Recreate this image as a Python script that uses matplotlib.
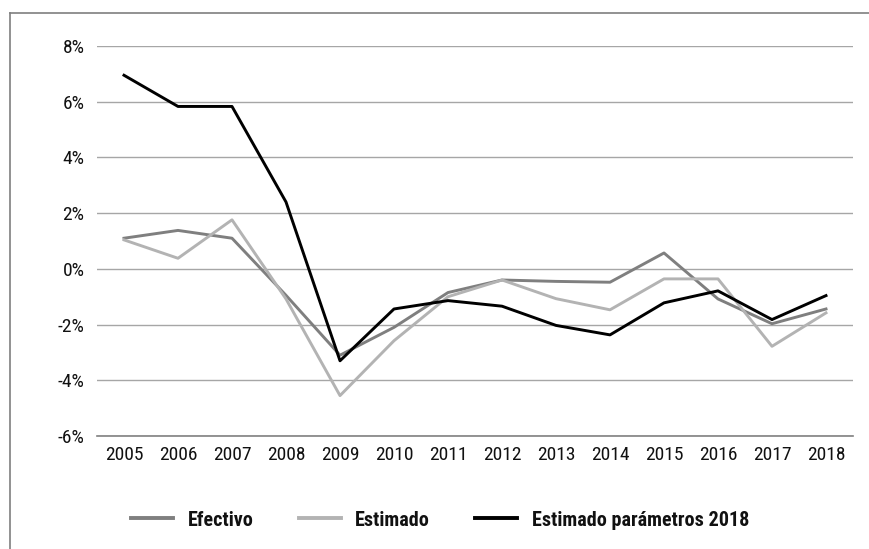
import matplotlib
matplotlib.use("Agg")
import matplotlib.pyplot as plt
from matplotlib.lines import Line2D

years = ["2005", "2006", "2007", "2008", "2009", "2010", "2011", "2012", "2013", "2014", "2015", "2016", "2017", "2018"]
efectivo = [1.10, 1.38, 1.10, -0.95, -3.10, -2.10, -0.85, -0.40, -0.45, -0.48, 0.57, -1.08, -1.97, -1.44]
estimado = [1.04, 0.38, 1.76, -1.08, -4.55, -2.58, -1.00, -0.40, -1.07, -1.47, -0.36, -0.36, -2.78, -1.58]
estimado_2018 = [6.95, 5.83, 5.83, 2.40, -3.30, -1.44, -1.14, -1.34, -2.03, -2.37, -1.22, -0.79, -1.82, -0.96]
yticks = [-6, -4, -2, 0, 2, 4, 6, 8]
ytick_labels = ["-6%", "-4%", "-2%", "0%", "2%", "4%", "6%", "8%"]
series_names = ["Efectivo", "Estimado", "Estimado parámetros 2018"]

plt.rcParams['font.family'] = ['Roboto Condensed', 'DejaVu Sans']

W, H = 870, 549
fig = plt.figure(figsize=(W / 100, H / 100), dpi=100)
ax = fig.add_axes([97 / W, 1 - 436 / H, (853 - 97) / W, (436 - 46) / H])

x = list(range(len(years)))
ax.plot(x, efectivo, color="#7f7f7f", lw=2.1, label=series_names[0])
ax.plot(x, estimado, color="#b3b3b3", lw=2.1, label=series_names[1])
ax.plot(x, estimado_2018, color="#000000", lw=2.1, label=series_names[2])

ax.set_xlim(-0.5, len(years) - 0.5)
ax.set_ylim(-6, 8)
ax.set_yticks(yticks)
ax.set_yticklabels(ytick_labels)
ax.set_xticks(x)
ax.set_xticklabels(years)
ax.grid(axis="y", color="#a6a6a6", lw=1)
ax.set_axisbelow(True)
for s in ["top", "right", "left"]:
    ax.spines[s].set_visible(False)
ax.spines["bottom"].set_color("#808080")
ax.spines["bottom"].set_linewidth(1.2)
ax.tick_params(axis="both", length=0, labelsize=14, colors="#111111")
ax.tick_params(axis="y", pad=9)
ax.tick_params(axis="x", pad=7)

leg = fig.legend(loc="center", bbox_to_anchor=(440 / W, 1 - 520 / H), ncol=3, frameon=False,
                 prop={"weight": "bold", "size": 14.5}, handlelength=2.1, columnspacing=2.25, handletextpad=0.7)
for t in leg.get_texts():
    t.set_color("#111111")
for h in leg.legend_handles:
    h.set_linewidth(2.8)

# frame lines
fig.add_artist(Line2D([10 / W, 10 / W], [0, 1 - 13 / H], transform=fig.transFigure, color="#7f7f7f", lw=1.2))
fig.add_artist(Line2D([10 / W, 1], [1 - 13 / H, 1 - 13 / H], transform=fig.transFigure, color="#7f7f7f", lw=1.2))

fig.savefig("out.png", dpi=100)
